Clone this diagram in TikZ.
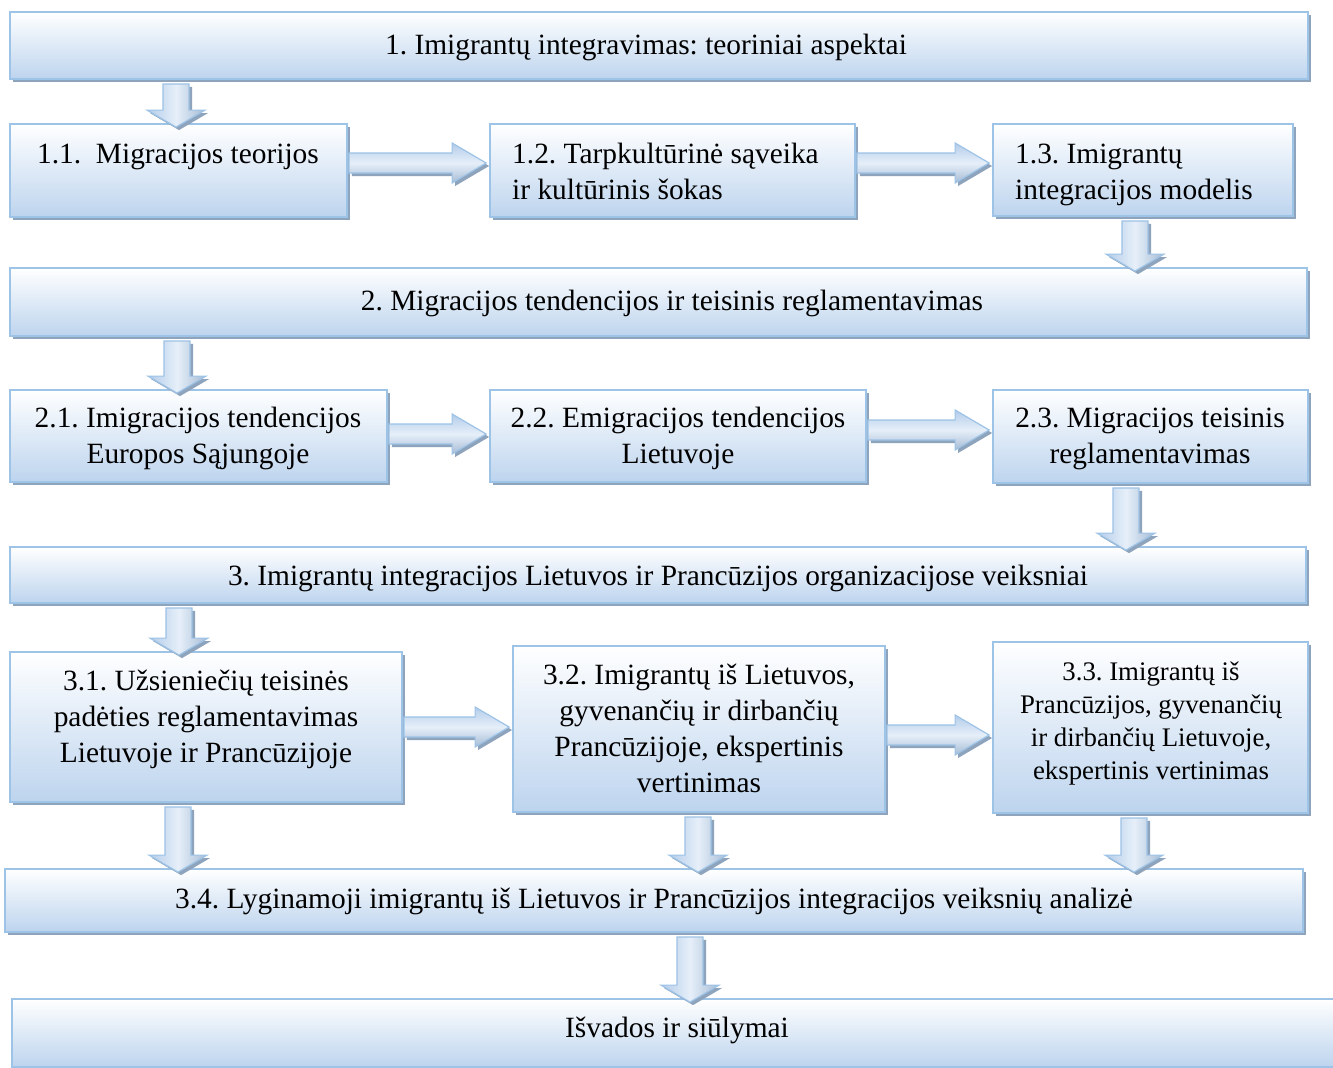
\documentclass[tikz,border=0pt]{standalone}
\usepackage{fontspec}
\setmainfont{Liberation Serif}
\frenchspacing
\usetikzlibrary{shadows,calc}
\definecolor{bordc}{HTML}{9DC3E6}
\definecolor{boxb}{HTML}{BDD4EE}
\definecolor{shc}{HTML}{8EA3BC}
\definecolor{arrE}{HTML}{B3CCEA}
\definecolor{arrM}{HTML}{E6EFF9}
\tikzset{
  box/.style={draw=bordc, line width=1.8pt, top color=white, bottom color=boxb,
    inner sep=0pt, drop shadow={shadow xshift=3pt, shadow yshift=-3pt, fill=shc, opacity=1}},
  txt/.style={inner sep=0pt, font=\fontsize{29.4}{36}\selectfont\frenchspacing},
  txtsm/.style={inner sep=0pt, font=\fontsize{26.8}{33}\selectfont\frenchspacing},
  varrow/.style={draw=bordc, line width=1.2pt, left color=arrE, right color=arrE!90!black!95, middle color=arrM,
    drop shadow={shadow xshift=3pt, shadow yshift=-3pt, fill=shc, opacity=1}},
  harrow/.style={draw=bordc, line width=1.2pt, top color=arrE, bottom color=arrE!90!black!95, middle color=arrM,
    drop shadow={shadow xshift=3pt, shadow yshift=-3pt, fill=shc, opacity=1}}
}
\newcommand\bx[5]{\node[box, minimum width={(#4-#2)*1pt}, minimum height={(#5-#3)*1pt}] (#1) at ({(#2+#4)/2},{(#3+#5)/2}) {};}
\newcommand\vArr[3]{\draw[varrow] let \p1=(#2.south), \p2=(#3.north), \p3=(#1,0) in
  (\x3-13pt,\y1-4pt) -- (\x3-13pt,\y2+13pt) -- (\x3-29pt,\y2+13pt) -- (\x3,\y2-4pt) --
  (\x3+29pt,\y2+13pt) -- (\x3+13pt,\y2+13pt) -- (\x3+13pt,\y1-4pt) -- cycle;}
\newcommand\hArr[3]{\draw[harrow] let \p1=(#2.east), \p2=(#3.west), \p3=(0,#1) in
  (\x1+1pt,\y3+10pt) -- (\x2-37pt,\y3+10pt) -- (\x2-37pt,\y3+20pt) -- (\x2-3pt,\y3) --
  (\x2-37pt,\y3-20pt) -- (\x2-37pt,\y3-10pt) -- (\x1+1pt,\y3-10pt) -- cycle;}
\begin{document}
\begin{tikzpicture}[x=1pt,y=-1pt]
\useasboundingbox[fill=white] (0,0) rectangle (1333,1068);
% boxes
\bx{b1}{10}{12}{1308}{79}
\bx{b11}{10}{124}{347}{217}
\bx{b12}{490}{124}{855}{217}
\bx{b13}{993}{124}{1293}{216}
\bx{b2}{10}{268}{1307}{336}
\bx{b21}{10}{390}{387}{482}
\bx{b22}{490}{390}{866}{482}
\bx{b23}{993}{390}{1308}{483}
\bx{b3}{10}{547}{1306}{603}
\bx{b31}{10}{652}{402}{802}
\bx{b32}{513}{646}{885}{812}
\bx{b33}{993}{642}{1308}{813}
\bx{b34}{5}{869}{1303}{932}
\bx{bf}{12}{999}{1350}{1067}
% texts
\node[txt, anchor=base] (t1) at (646,54) {1. Imigrantų integravimas: teoriniai aspektai};
\node[txt, anchor=base] (t11) at (178,163) {1.1.\ \ Migracijos teorijos};
\node[txt, anchor=base west] (t12) at (512,163) {\begin{tabular}[t]{@{}l@{}}1.2. Tarpkultūrinė sąveika\\ir kultūrinis šokas\end{tabular}};
\node[txt, anchor=base west] (t13) at (1015,163) {\begin{tabular}[t]{@{}l@{}}1.3. Imigrantų\\integracijos modelis\end{tabular}};
\node[txt, anchor=base] (t2) at (672,310) {2. Migracijos tendencijos ir teisinis reglamentavimas};
\node[txt, anchor=base] (t21) at (198,427) {\begin{tabular}[t]{@{}c@{}}2.1. Imigracijos tendencijos\\Europos Sąjungoje\end{tabular}};
\node[txt, anchor=base] (t22) at (678,427) {\begin{tabular}[t]{@{}c@{}}2.2. Emigracijos tendencijos\\Lietuvoje\end{tabular}};
\node[txt, anchor=base] (t23) at (1150,427) {\begin{tabular}[t]{@{}c@{}}2.3. Migracijos teisinis\\reglamentavimas\end{tabular}};
\node[txt, anchor=base] (t3) at (658,585) {3. Imigrantų integracijos Lietuvos ir Prancūzijos organizacijose veiksniai};
\node[txt, anchor=base] (t31) at (206,690) {\begin{tabular}[t]{@{}c@{}}3.1. Užsieniečių teisinės\\padėties reglamentavimas\\Lietuvoje ir Prancūzijoje\end{tabular}};
\node[txt, anchor=base] (t32) at (699,684) {\begin{tabular}[t]{@{}c@{}}3.2. Imigrantų iš Lietuvos,\\gyvenančių ir dirbančių\\Prancūzijoje, ekspertinis\\vertinimas\end{tabular}};
\node[txtsm, anchor=base] (t33) at (1151,680) {\begin{tabular}[t]{@{}c@{}}3.3. Imigrantų iš\\Prancūzijos, gyvenančių\\ir dirbančių Lietuvoje,\\ekspertinis vertinimas\end{tabular}};
\node[txt, anchor=base] (t34) at (654,908) {3.4. Lyginamoji imigrantų iš Lietuvos ir Prancūzijos integracijos veiksnių analizė};
\node[txt, anchor=base] (tf) at (677,1037) {Išvados ir siūlymai};
% arrows
\vArr{176}{b1}{b11}
\hArr{163}{b11}{b12}
\hArr{163}{b12}{b13}
\vArr{1135}{b13}{b2}
\vArr{177}{b2}{b21}
\hArr{434}{b21}{b22}
\hArr{430}{b22}{b23}
\vArr{1126}{b23}{b3}
\vArr{179}{b3}{b31}
\hArr{727}{b31}{b32}
\hArr{735}{b32}{b33}
\vArr{178}{b31}{b34}
\vArr{698}{b32}{b34}
\vArr{1134}{b33}{b34}
\vArr{690}{b34}{bf}
\end{tikzpicture}
\end{document}
